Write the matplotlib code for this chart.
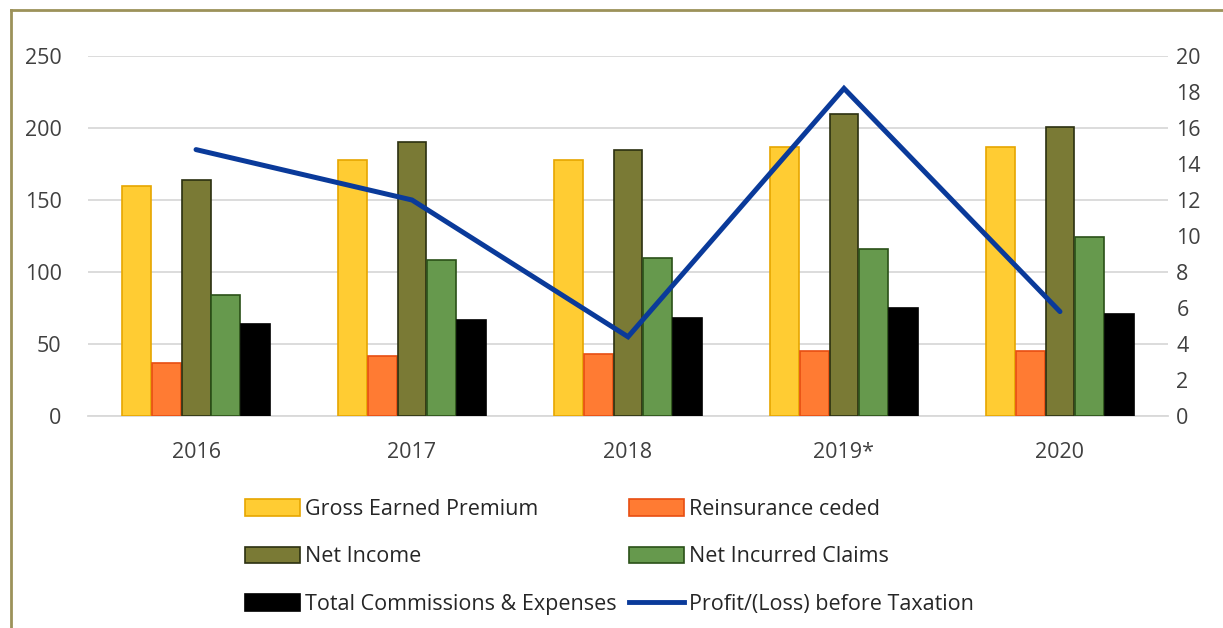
import numpy as np
import matplotlib
matplotlib.use("Agg")
import matplotlib.pyplot as plt
from matplotlib.lines import Line2D

plt.rcParams['font.family'] = ['Open Sans', 'DejaVu Sans']

years = ["2016", "2017", "2018", "2019*", "2020"]
gross_earned_premium = [160, 178, 178, 187, 187]
reinsurance_ceded = [37, 42, 43, 45, 45]
net_income = [164, 190, 185, 210, 201]
net_incurred_claims = [84, 108, 110, 116, 124]
total_comm_expenses = [64, 67, 68, 75, 71]
profit_before_tax = [14.8, 12.0, 4.4, 18.2, 5.8]

bar_series = [
    ("Gross Earned Premium", gross_earned_premium, "#FFCC33", "#E6A600"),
    ("Reinsurance ceded", reinsurance_ceded, "#FF7B33", "#E84E12"),
    ("Net Income", net_income, "#7A7A35", "#2B3010"),
    ("Net Incurred Claims", net_incurred_claims, "#66994D", "#2A5018"),
    ("Total Commissions & Expenses", total_comm_expenses, "#000000", "#000000"),
]

fig = plt.figure(figsize=(12.23, 6.28), dpi=100)
ax = fig.add_axes([0.072, 0.3376, 0.883, 0.5732])
ax2 = ax.twinx()

x = np.arange(len(years))
w = 0.138
handles = {}
for i, (name, vals, fc, ec) in enumerate(bar_series):
    off = (i - 2) * w
    b = ax.bar(x + off, vals, w * 0.97, color=fc, edgecolor=ec, linewidth=1.2, zorder=3, label=name)
    handles[name] = b

ax.set_xlim(-0.5, len(years) - 0.5)
ax.set_ylim(0, 250)
ax.set_yticks(range(0, 251, 50))
ax.set_xticks(x)
ax.set_xticklabels(years)
ax.grid(axis='y', color='#D9D9D9', linewidth=1.3, zorder=0)
ax.set_axisbelow(True)
for s in ['top', 'right', 'left']:
    ax.spines[s].set_visible(False)
ax.spines['bottom'].set_color('#D9D9D9')
ax.spines['bottom'].set_linewidth(1.3)
ax.tick_params(axis='both', length=0, labelsize=15.5, colors='#404040')
ax.tick_params(axis='y', pad=19)
ax.tick_params(axis='x', pad=19)

ax2.plot(x, profit_before_tax, color='#0A3A9A', linewidth=3.6, zorder=5,
         solid_capstyle='round', solid_joinstyle='miter')
ax2.set_ylim(0, 20)
ax2.set_yticks(range(0, 21, 2))
for s in ax2.spines.values():
    s.set_visible(False)
ax2.tick_params(axis='y', length=0, labelsize=15.5, colors='#404040', pad=6)
ax.set_zorder(ax2.get_zorder() - 1)
ax.patch.set_visible(False)

line_handle = Line2D([], [], color='#0A3A9A', linewidth=3.5)
order = [handles["Gross Earned Premium"], handles["Net Income"], handles["Total Commissions & Expenses"],
         handles["Reinsurance ceded"], handles["Net Incurred Claims"], line_handle]
labels = ["Gross Earned Premium", "Net Income", "Total Commissions & Expenses",
          "Reinsurance ceded", "Net Incurred Claims", "Profit/(Loss) before Taxation"]
fig.legend(order, labels, ncol=2, loc='upper left', bbox_to_anchor=(0.2003, 0.2054),
           frameon=False, fontsize=15.5, handlelength=2.55, handleheight=0.8,
           handletextpad=0.23, columnspacing=0.57, labelspacing=1.23,
           borderpad=0, borderaxespad=0, labelcolor='#262626')

# olive frame (left and top edges)
fig.add_artist(Line2D([0.009, 0.009], [0, 0.984], transform=fig.transFigure, color='#9C925A', linewidth=2))
fig.add_artist(Line2D([0.009, 1.0], [0.984, 0.984], transform=fig.transFigure, color='#9C925A', linewidth=2))

fig.savefig("out.png", dpi=100)
